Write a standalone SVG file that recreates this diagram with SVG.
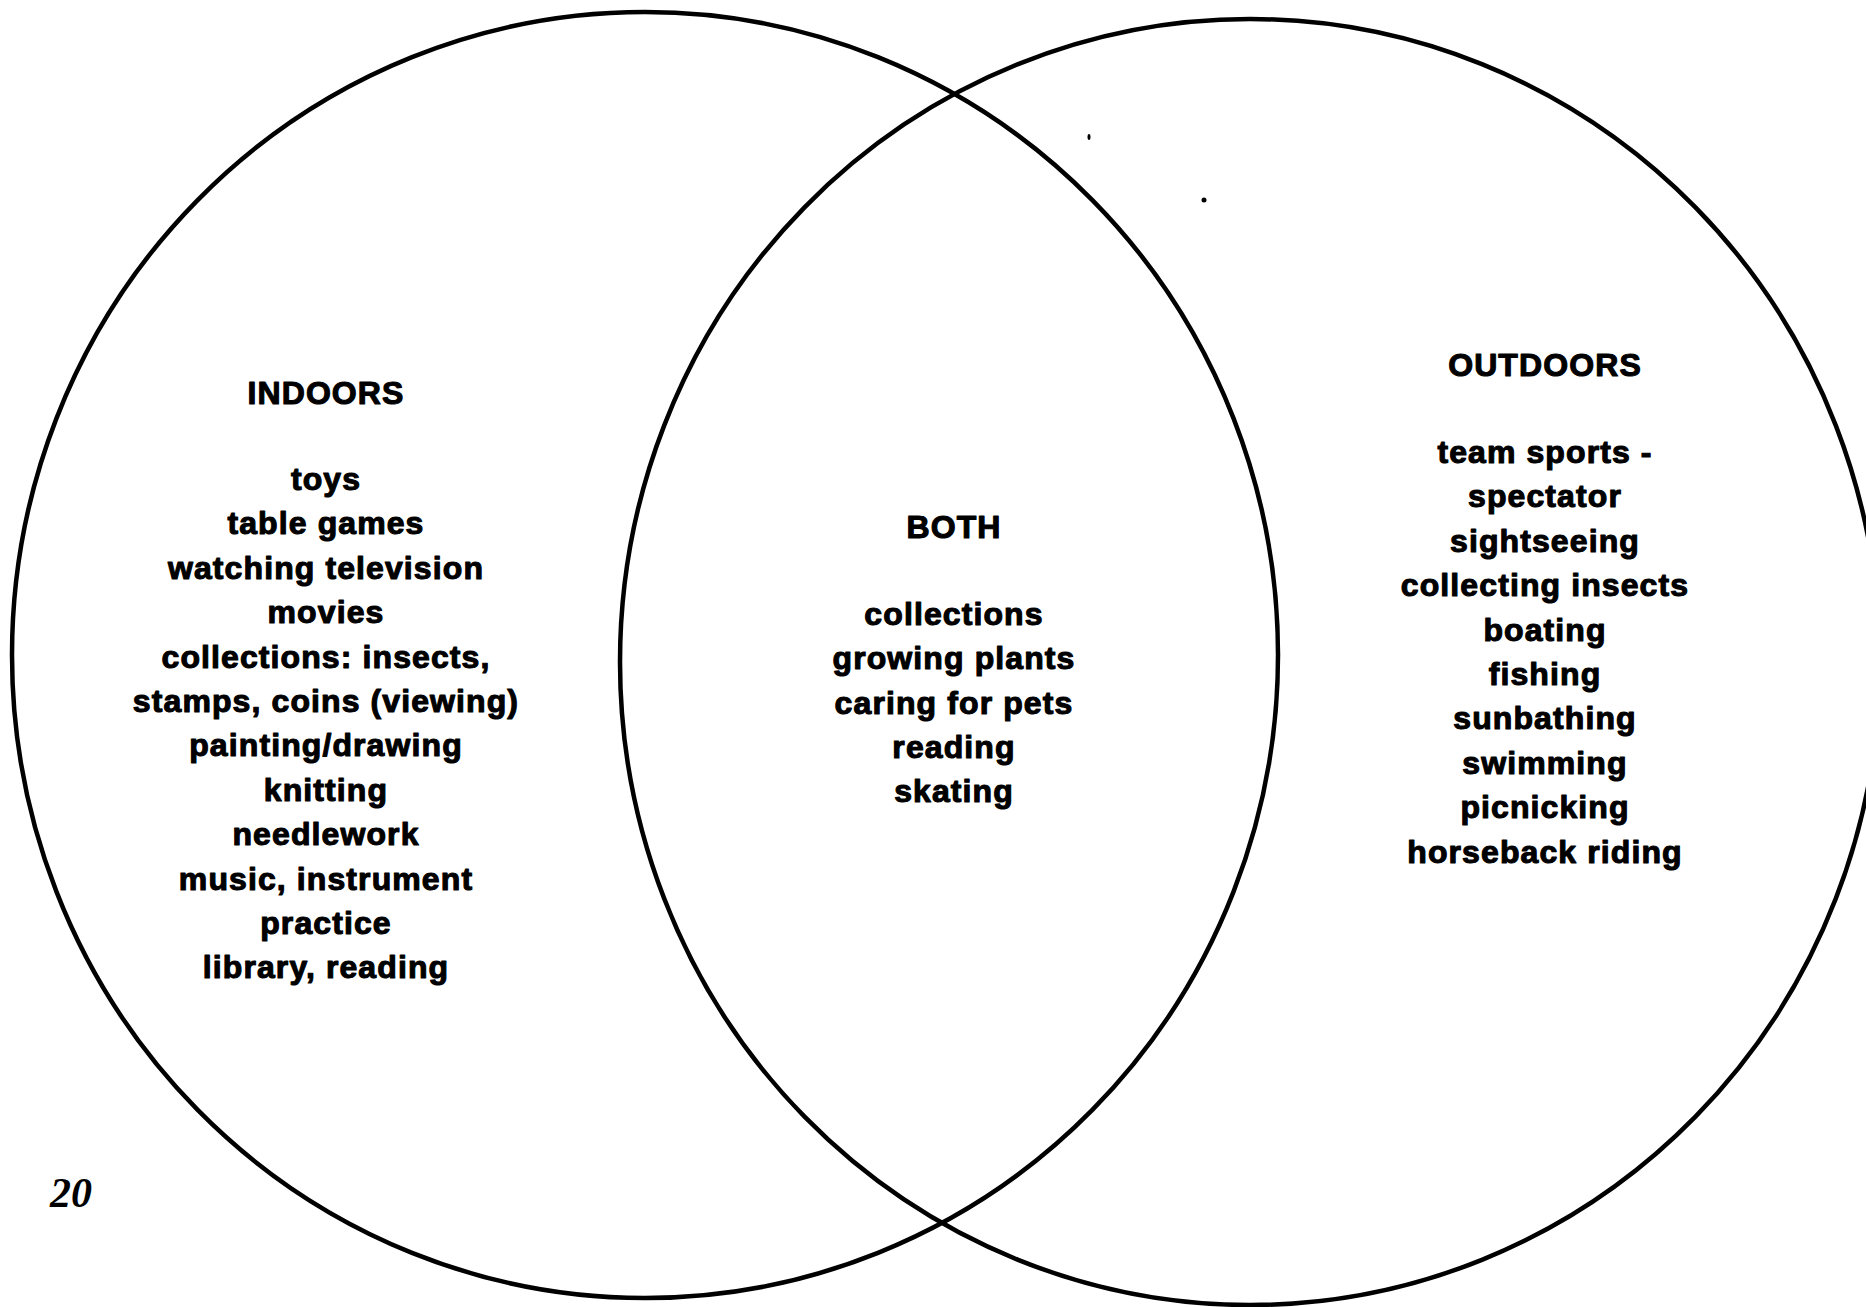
<svg xmlns="http://www.w3.org/2000/svg" width="1866" height="1307" viewBox="0 0 1866 1307">
<style>
.ring{fill:none;stroke:#000;stroke-width:4.5}
.t{font-family:"Liberation Sans",Arial,Helvetica,sans-serif;font-weight:bold;font-size:32px;letter-spacing:1.1px;text-anchor:middle;fill:#000;stroke:#000;stroke-width:1.1px;stroke-linejoin:round}
.pg{font-family:"Liberation Serif","Times New Roman",serif;font-style:italic;font-weight:bold;font-size:42px;fill:#000}
</style>
<rect width="1866" height="1307" fill="#fff"/>
<g id="indoors">
<ellipse class="ring" cx="645" cy="655" rx="633" ry="643"/>
<text class="t" x="326" y="404">INDOORS</text>
<text class="t" x="326" y="490">toys</text>
<text class="t" x="326" y="534">table games</text>
<text class="t" x="326" y="579">watching television</text>
<text class="t" x="326" y="623">movies</text>
<text class="t" x="326" y="668">collections: insects,</text>
<text class="t" x="326" y="712">stamps, coins (viewing)</text>
<text class="t" x="326" y="756">painting/drawing</text>
<text class="t" x="326" y="801">knitting</text>
<text class="t" x="326" y="845">needlework</text>
<text class="t" x="326" y="890">music, instrument</text>
<text class="t" x="326" y="934">practice</text>
<text class="t" x="326" y="978">library, reading</text>
</g>
<g id="outdoors">
<ellipse class="ring" cx="1250" cy="662" rx="630" ry="643"/>
<text class="t" x="1545" y="376">OUTDOORS</text>
<text class="t" x="1545" y="463">team sports -</text>
<text class="t" x="1545" y="507">spectator</text>
<text class="t" x="1545" y="552">sightseeing</text>
<text class="t" x="1545" y="596">collecting insects</text>
<text class="t" x="1545" y="641">boating</text>
<text class="t" x="1545" y="685">fishing</text>
<text class="t" x="1545" y="729">sunbathing</text>
<text class="t" x="1545" y="774">swimming</text>
<text class="t" x="1545" y="818">picnicking</text>
<text class="t" x="1545" y="863">horseback riding</text>
</g>
<g id="both">
<text class="t" x="954" y="538">BOTH</text>
<text class="t" x="954" y="625">collections</text>
<text class="t" x="954" y="669">growing plants</text>
<text class="t" x="954" y="714">caring for pets</text>
<text class="t" x="954" y="758">reading</text>
<text class="t" x="954" y="802">skating</text>
</g>
<g id="connectors"></g>
<g id="marks">
<ellipse cx="1089" cy="137" rx="1.5" ry="3" fill="#000"/>
<ellipse cx="1204" cy="200" rx="2.5" ry="2.5" fill="#000"/>
<text class="pg" x="50" y="1207">20</text>
</g>
</svg>
